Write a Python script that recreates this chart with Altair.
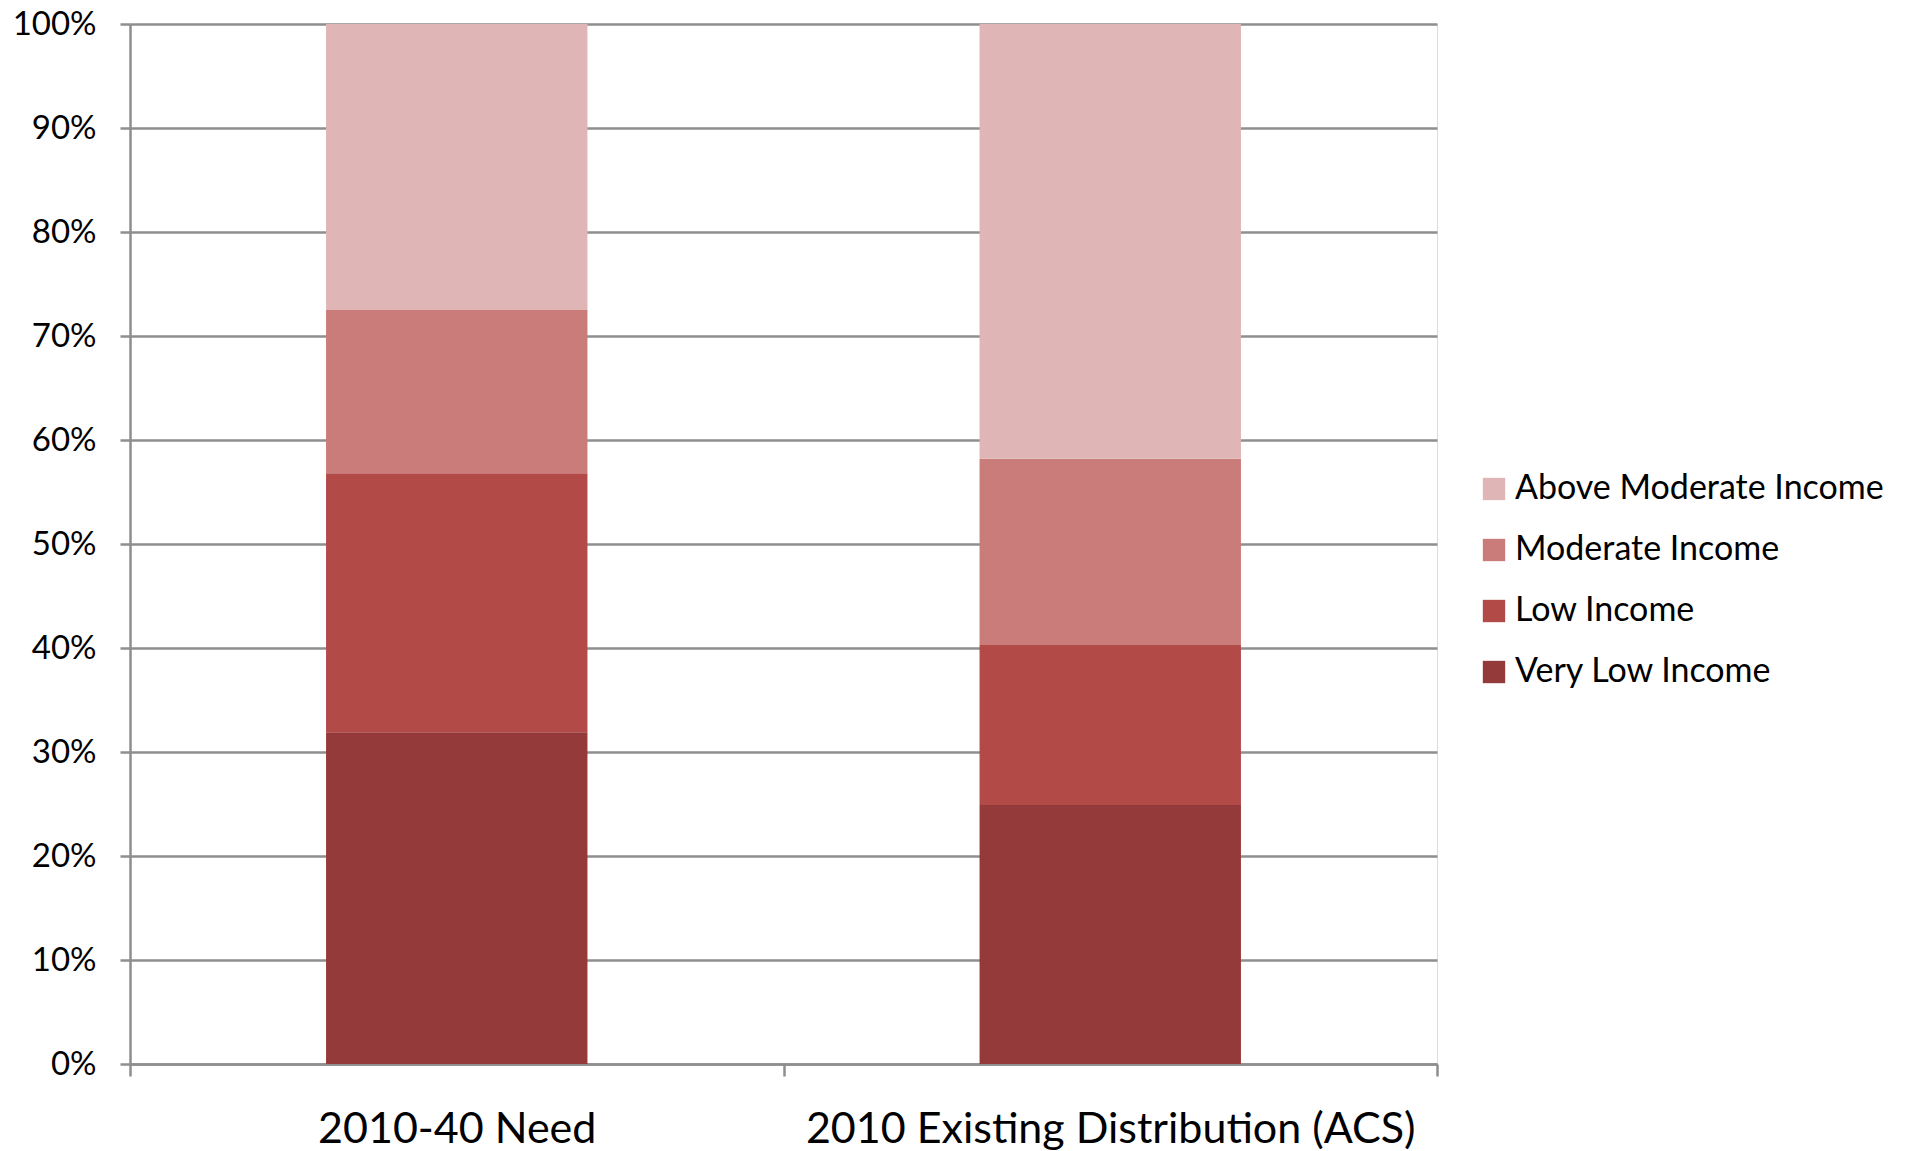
import altair as alt
import pandas as pd

categories = ["2010-40 Need", "2010 Existing Distribution (ACS)"]
levels = ["Very Low Income", "Low Income", "Moderate Income", "Above Moderate Income"]
need_values = [0.319, 0.249, 0.157, 0.275]
existing_values = [0.249, 0.154, 0.179, 0.418]
legend_order = ["Above Moderate Income", "Moderate Income", "Low Income", "Very Low Income"]
colors = ["#DFB6B5", "#CA7C7B", "#B24A48", "#953A3A"]
y_ticks = [0, 0.1, 0.2, 0.3, 0.4, 0.5, 0.6, 0.7, 0.8, 0.9, 1.0]

rows = []
for cat, vals in zip(categories, [need_values, existing_values]):
    for i, (lvl, v) in enumerate(zip(levels, vals)):
        rows.append({"category": cat, "level": lvl, "value": v, "rank": i})
df = pd.DataFrame(rows)

FONT = "Lato"
GRID = "#8E8E8E"

chart = alt.Chart(df).mark_bar(width=alt.RelativeBandSize(0.4)).encode(
    x=alt.X("category:N", sort=categories, title=None,
            scale=alt.Scale(paddingInner=0, paddingOuter=0),
            axis=alt.Axis(labelAngle=0, tickBand="extent", grid=False,
                          domainColor=GRID, domainWidth=2.5, tickColor=GRID,
                          tickWidth=2.5, tickSize=12, labelFont=FONT,
                          labelFontSize=43, labelColor="black", labelLimit=0,
                          labelBaseline="alphabetic", labelPadding=66)),
    y=alt.Y("value:Q", stack="zero", title=None,
            scale=alt.Scale(domain=[0, 1], nice=False),
            axis=alt.Axis(values=y_ticks, format=".0%", grid=True,
                          gridColor=GRID, gridWidth=2.5, domainColor=GRID,
                          domainWidth=2.5, tickColor=GRID, tickWidth=2.5,
                          tickSize=10, labelFont=FONT, labelFontSize=33,
                          labelColor="black", labelPadding=24, labelLimit=0)),
    color=alt.Color("level:N",
                    scale=alt.Scale(domain=legend_order, range=colors),
                    legend=alt.Legend(title=None, orient="none", legendX=1347,
                                      legendY=448, symbolType="square",
                                      symbolSize=500, symbolStrokeWidth=0,
                                      labelFont=FONT, labelFontSize=34,
                                      labelColor="black", rowPadding=27,
                                      labelOffset=4, labelLimit=0)),
    order=alt.Order("rank:Q", sort="ascending"),
).properties(
    width=1307, height=1040,
    autosize=alt.AutoSizeParams(type="none"),
    padding={"left": 130, "top": 24, "right": 470, "bottom": 87},
).configure_view(stroke=None).configure(background="white")

chart.save("out.html", embed_options={"renderer": "svg", "actions": False})
